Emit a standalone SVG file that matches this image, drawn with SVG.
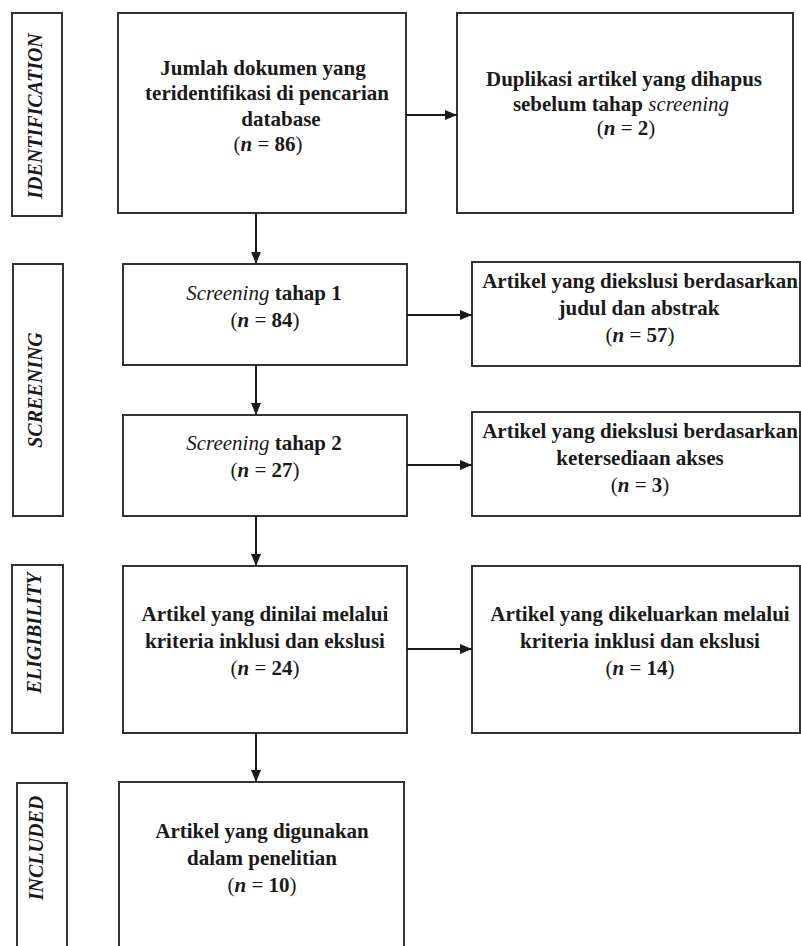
<svg xmlns="http://www.w3.org/2000/svg" width="801" height="946" viewBox="0 0 801 946">
<style>
.box{fill:#ffffff;stroke:#333333;stroke-width:2}
.t{font-family:"Liberation Serif","Times New Roman",serif;font-size:21px;font-weight:bold;fill:#1a1a1a;text-anchor:middle}
.side{font-family:"Liberation Serif","Times New Roman",serif;font-size:20px;font-weight:bold;font-style:italic;fill:#1a1a1a;text-anchor:middle}
.it{font-style:italic;font-weight:normal}
.n{font-style:italic}
.p{font-weight:normal}
.c{stroke:#1a1a1a;stroke-width:2;fill:none}
</style>
<defs>
<marker id="ah" markerUnits="userSpaceOnUse" markerWidth="13" markerHeight="13" viewBox="0 0 13 13" refX="12" refY="6.5" orient="auto">
<path d="M0,1.5 L12,6.5 L0,11.5 Z" fill="#1a1a1a"/>
</marker>
</defs>
<rect width="801" height="946" fill="#ffffff"/>

<g id="label-identification">
<rect class="box" x="12" y="13" width="50" height="203"/>
<text class="side" transform="translate(42,116) rotate(-90)">IDENTIFICATION</text>
</g>
<g id="label-screening">
<rect class="box" x="13" y="264" width="50" height="252"/>
<text class="side" transform="translate(42,390) rotate(-90)">SCREENING</text>
</g>
<g id="label-eligibility">
<rect class="box" x="12" y="565" width="51" height="168"/>
<text class="side" transform="translate(41,633) rotate(-90)">ELIGIBILITY</text>
</g>
<g id="label-included">
<rect class="box" x="17" y="783" width="50" height="175"/>
<text class="side" transform="translate(43,848) rotate(-90)">INCLUDED</text>
</g>

<g id="node-identified">
<rect class="box" x="118" y="13" width="288" height="200"/>
<text class="t" x="263" y="74.5">Jumlah dokumen yang</text>
<text class="t" x="267" y="100">teridentifikasi di pencarian</text>
<text class="t" x="281" y="125.5">database</text>
<text class="t" x="268" y="151"><tspan class="p">(</tspan><tspan class="n">n</tspan><tspan class="p"> = </tspan>86<tspan class="p">)</tspan></text>
</g>
<g id="node-duplicates">
<rect class="box" x="457" y="13" width="336" height="200"/>
<text class="t" x="624" y="86">Duplikasi artikel yang dihapus</text>
<text class="t" x="621" y="111">sebelum tahap <tspan class="it">screening</tspan></text>
<text class="t" x="626" y="135"><tspan class="p">(</tspan><tspan class="n">n</tspan><tspan class="p"> = </tspan>2<tspan class="p">)</tspan></text>
</g>

<g id="node-screening1">
<rect class="box" x="123" y="264" width="284" height="101"/>
<text class="t" x="264" y="300"><tspan class="it">Screening</tspan> tahap 1</text>
<text class="t" x="265" y="327"><tspan class="p">(</tspan><tspan class="n">n</tspan><tspan class="p"> = </tspan>84<tspan class="p">)</tspan></text>
</g>
<g id="node-excluded1">
<rect class="box" x="472" y="262" width="328" height="104"/>
<text class="t" x="640" y="288">Artikel yang diekslusi berdasarkan</text>
<text class="t" x="639" y="315">judul dan abstrak</text>
<text class="t" x="640" y="342"><tspan class="p">(</tspan><tspan class="n">n</tspan><tspan class="p"> = </tspan>57<tspan class="p">)</tspan></text>
</g>

<g id="node-screening2">
<rect class="box" x="123" y="415" width="284" height="101"/>
<text class="t" x="264" y="450"><tspan class="it">Screening</tspan> tahap 2</text>
<text class="t" x="265" y="477"><tspan class="p">(</tspan><tspan class="n">n</tspan><tspan class="p"> = </tspan>27<tspan class="p">)</tspan></text>
</g>
<g id="node-excluded2">
<rect class="box" x="472" y="412" width="328" height="104"/>
<text class="t" x="640" y="438">Artikel yang diekslusi berdasarkan</text>
<text class="t" x="640" y="465">ketersediaan akses</text>
<text class="t" x="640" y="492"><tspan class="p">(</tspan><tspan class="n">n</tspan><tspan class="p"> = </tspan>3<tspan class="p">)</tspan></text>
</g>

<g id="node-eligibility">
<rect class="box" x="123" y="566" width="284" height="167"/>
<text class="t" x="265" y="621">Artikel yang dinilai melalui</text>
<text class="t" x="265" y="648">kriteria inklusi dan ekslusi</text>
<text class="t" x="265" y="675"><tspan class="p">(</tspan><tspan class="n">n</tspan><tspan class="p"> = </tspan>24<tspan class="p">)</tspan></text>
</g>
<g id="node-excluded3">
<rect class="box" x="472" y="566" width="328" height="167"/>
<text class="t" x="640" y="621">Artikel yang dikeluarkan melalui</text>
<text class="t" x="640" y="648">kriteria inklusi dan ekslusi</text>
<text class="t" x="640" y="675"><tspan class="p">(</tspan><tspan class="n">n</tspan><tspan class="p"> = </tspan>14<tspan class="p">)</tspan></text>
</g>

<g id="node-included">
<rect class="box" x="119" y="782" width="285" height="180"/>
<text class="t" x="262" y="838">Artikel yang digunakan</text>
<text class="t" x="262" y="865">dalam penelitian</text>
<text class="t" x="262" y="892"><tspan class="p">(</tspan><tspan class="n">n</tspan><tspan class="p"> = </tspan>10<tspan class="p">)</tspan></text>
</g>

<g id="connectors">
<line class="c" x1="406" y1="115" x2="457" y2="115" marker-end="url(#ah)"/>
<line class="c" x1="256" y1="214" x2="256" y2="264" marker-end="url(#ah)"/>
<line class="c" x1="407" y1="315" x2="472" y2="315" marker-end="url(#ah)"/>
<line class="c" x1="256" y1="365" x2="256" y2="415" marker-end="url(#ah)"/>
<line class="c" x1="407" y1="465" x2="472" y2="465" marker-end="url(#ah)"/>
<line class="c" x1="256" y1="516" x2="256" y2="566" marker-end="url(#ah)"/>
<line class="c" x1="407" y1="649" x2="472" y2="649" marker-end="url(#ah)"/>
<line class="c" x1="256" y1="733" x2="256" y2="782" marker-end="url(#ah)"/>
</g>
</svg>
